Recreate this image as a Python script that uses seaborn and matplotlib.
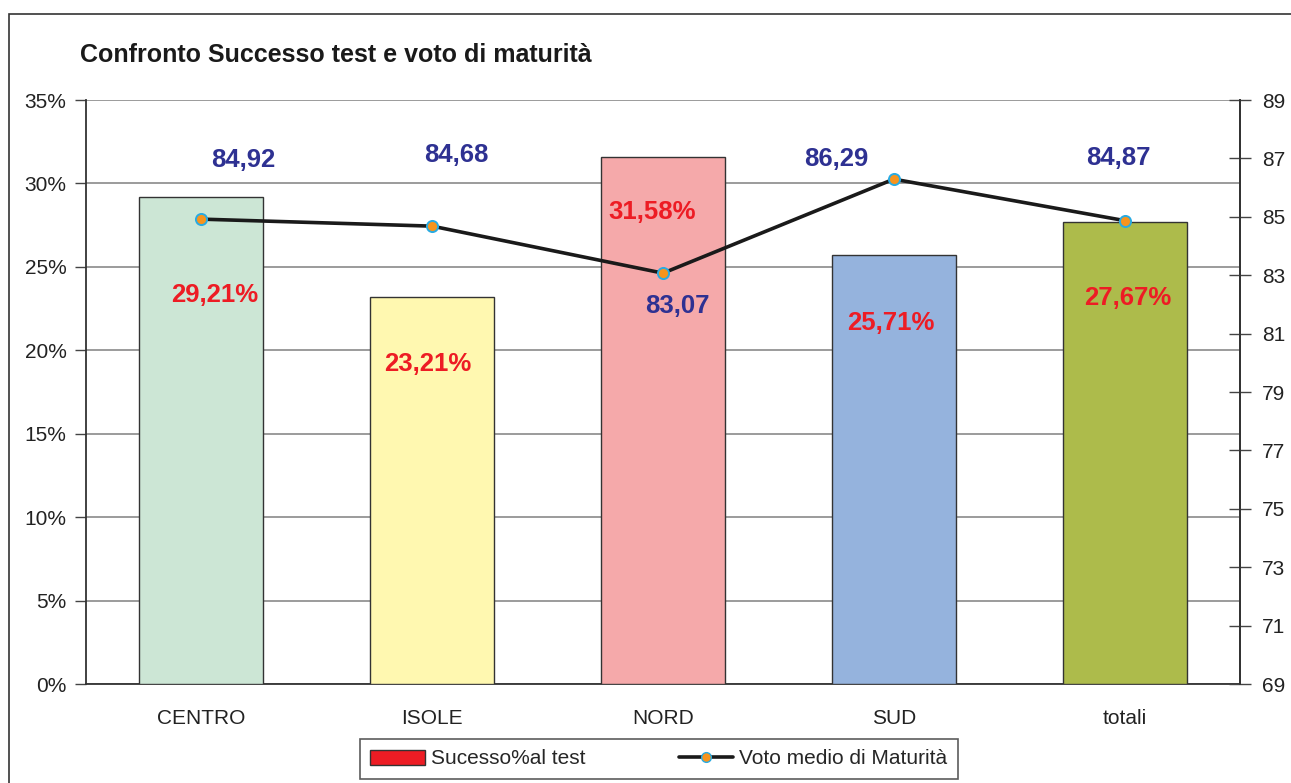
import matplotlib
matplotlib.use("Agg")
import matplotlib.pyplot as plt
from matplotlib.patches import Patch, Rectangle
from matplotlib.lines import Line2D
import numpy as np
import pandas as pd
import seaborn as sns

# --------------------------------------------------------------------------- #
# Data
# --------------------------------------------------------------------------- #
categories = ["CENTRO", "ISOLE", "NORD", "SUD", "totali"]
successo = [29.21, 23.21, 31.58, 25.71, 27.67]        # % success at test
voto_medio = [84.92, 84.68, 83.07, 86.29, 84.87]      # mean final grade
left_ticks = [0, 5, 10, 15, 20, 25, 30, 35]
right_ticks = [69, 71, 73, 75, 77, 79, 81, 83, 85, 87, 89]

bar_colors = ["#cce6d5", "#fff8b0", "#f5a9aa", "#95b3dd", "#adbb4b"]
RED = "#ed1c24"
BLUE = "#2e3192"

sns.set_theme(style="white")
plt.rcParams["font.family"] = ["Liberation Sans", "DejaVu Sans"]

df = pd.DataFrame({"cat": categories, "succ": successo, "voto": voto_medio})

fig = plt.figure(figsize=(12.91, 7.83), dpi=100)
ax = fig.add_axes([86 / 1291, 1 - 684 / 783, (1240 - 86) / 1291, (684 - 100) / 783])

sns.barplot(data=df, x="cat", y="succ", hue="cat", palette=bar_colors,
            saturation=1, width=0.537, edgecolor="#333333", linewidth=1.0,
            legend=False, ax=ax, zorder=3)
ax.set_ylim(0, 35)
ax.set_xlim(-0.5, len(categories) - 0.5)
ax.set_yticks(left_ticks)
ax.set_yticklabels([f"{t}%" for t in left_ticks], fontsize=15)
ax.yaxis.grid(True, color="#8a8a8a", linewidth=1.2, zorder=0)
ax.set_axisbelow(True)
ax.set_xlabel("")
ax.set_ylabel("")
ax.set_xticks(range(len(categories)))
ax.set_xticklabels(categories, fontsize=15)
ax.tick_params(axis="x", which="major", length=0, pad=18, colors="#222222")
ax.set_xticks(np.arange(-0.5, len(categories)), minor=True)
ax.tick_params(axis="x", which="minor", direction="inout", length=14, width=1.0, color="#444444")
ax.tick_params(axis="y", direction="out", length=8, width=1.0, color="#444444",
               left=True, pad=6, labelcolor="#222222")
ax.spines["top"].set_visible(False)
for side in ["left", "right", "bottom"]:
    ax.spines[side].set_color("#333333")
    ax.spines[side].set_linewidth(1.3)

# --- line on secondary axis ---
ax2 = ax.twinx()
sns.lineplot(x=np.arange(len(categories)), y=voto_medio, ax=ax2, color="#1a1a1a",
             linewidth=2.6, marker="o", markersize=8, markerfacecolor="#f7941d",
             markeredgecolor="#29abe2", markeredgewidth=1.4, zorder=5)
ax2.set_ylim(69, 89)
ax2.set_yticks(right_ticks)
ax2.set_yticklabels([str(t) for t in right_ticks], fontsize=15)
ax2.tick_params(axis="y", direction="inout", length=16, width=1.0, color="#444444",
                right=True, pad=8, labelcolor="#222222")
ax2.grid(False)
for side in ["top", "left", "bottom"]:
    ax2.spines[side].set_visible(False)
ax2.spines["right"].set_color("#333333")
ax2.spines["right"].set_linewidth(1.3)
ax2.set_xlim(-0.5, len(categories) - 0.5)

# --- data labels (offsets in pixels, placed as in the original) ---
bar_lbl_off = [(13, -98), (-4, -67), (-11, -55), (-3, -68), (3, -76)]
line_lbl_off = [(42, 59), (24, 71), (14, -33), (-58, 20), (-6, 63)]
for i, (v, (dx, dy)) in enumerate(zip(successo, bar_lbl_off)):
    ax.annotate(f"{v:.2f}%".replace(".", ","), (i, v), xytext=(dx, dy),
                textcoords="offset pixels", ha="center", va="center",
                fontsize=18.5, fontweight="bold", color=RED, zorder=6)
for i, (v, (dx, dy)) in enumerate(zip(voto_medio, line_lbl_off)):
    ax2.annotate(f"{v:.2f}".replace(".", ","), (i, v), xytext=(dx, dy),
                 textcoords="offset pixels", ha="center", va="center",
                 fontsize=18.5, fontweight="bold", color=BLUE, zorder=6)

# --- title & frame ---
fig.text(80 / 1291, 1 - 55 / 783, "Confronto Successo test e voto di maturità",
         fontsize=18, fontweight="bold", color="#1a1a1a", va="center", ha="left")
fig.patches.append(Rectangle((9 / 1291, -0.05), 1.1, 1 - 14 / 783 + 0.05,
                             transform=fig.transFigure, fill=False,
                             edgecolor="#333333", linewidth=1.2))

# --- legend ---
handles = [
    Patch(facecolor=RED, edgecolor="#333333", label="Sucesso%al test"),
    Line2D([0], [0], color="#1a1a1a", linewidth=2.6, marker="o", markersize=7,
           markerfacecolor="#f7941d", markeredgecolor="#29abe2",
           label="Voto medio di Maturità"),
]
leg = fig.legend(handles=handles, loc="center", bbox_to_anchor=(659 / 1291, 1 - 759 / 783),
                 ncol=2, fontsize=15, frameon=True, fancybox=False, edgecolor="#333333",
                 handlelength=2.6, columnspacing=4.5, borderpad=0.5, handletextpad=0.3,
                 borderaxespad=0)
leg.get_frame().set_linewidth(1.2)

fig.savefig("out.png", dpi=100)
